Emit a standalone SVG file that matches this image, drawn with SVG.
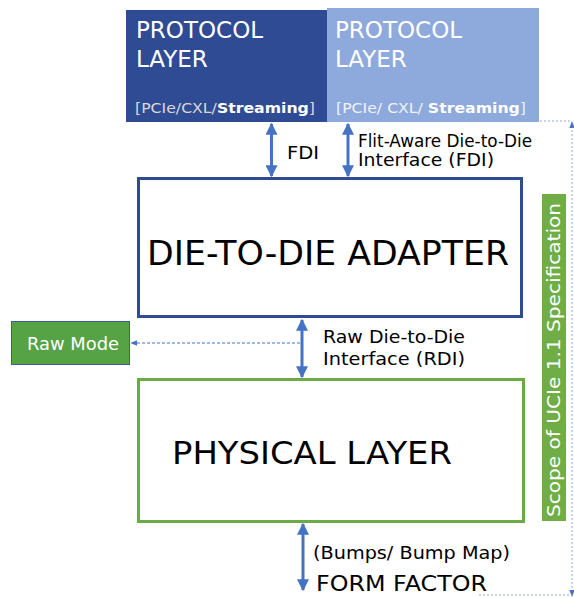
<svg xmlns="http://www.w3.org/2000/svg" width="574" height="598" viewBox="0 0 574 598">
<defs>
<marker id="ah" viewBox="0 0 10 10" refX="9" refY="5" markerWidth="4" markerHeight="4" orient="auto-start-reverse" markerUnits="strokeWidth"><path d="M0,0 L10,5 L0,10 z" fill="#4472C4"/></marker>
<marker id="ahs" viewBox="0 0 10 10" refX="9" refY="5" markerWidth="7" markerHeight="7" orient="auto-start-reverse" markerUnits="userSpaceOnUse"><path d="M0,1 L10,5 L0,9 z" fill="#4472C4"/></marker>
<style>
text{font-family:"DejaVu Sans","Liberation Sans",sans-serif;}
.w{fill:#ffffff}
.k{fill:#000000}
.sub{fill:#d9d9d9;font-size:14px}
.arr{stroke:#4472C4;stroke-width:3;fill:none;marker-start:url(#ah);marker-end:url(#ah)}
.dash{stroke:#4472C4;stroke-width:1;fill:none;stroke-dasharray:3,2}
.dot{stroke:#8EA9DB;stroke-width:1;fill:none;stroke-dasharray:2,2}
</style>
</defs>
<rect width="574" height="598" fill="#ffffff"/>
<g id="protocol1">
<rect x="126" y="10" width="202" height="112" fill="#2F4B93"/>
<text x="136" y="38" class="w" font-size="23">PROTOCOL</text>
<text x="136" y="67" class="w" font-size="23">LAYER</text>
<text x="135" y="113" class="sub" textLength="180" lengthAdjust="spacingAndGlyphs">[PCIe/CXL/<tspan font-weight="bold" fill="#ffffff">Streaming</tspan>]</text>
</g>
<g id="protocol2">
<rect x="327" y="8" width="212" height="114" fill="#8EA9DB"/>
<text x="335" y="38" class="w" font-size="23">PROTOCOL</text>
<text x="335" y="67" class="w" font-size="23">LAYER</text>
<text x="336" y="113" class="sub" style="fill:#eef2fa" textLength="190" lengthAdjust="spacingAndGlyphs">[PCIe/ CXL/ <tspan font-weight="bold" fill="#ffffff">Streaming</tspan>]</text>
</g>
<g id="adapter">
<rect x="138.5" y="178.5" width="383" height="138" fill="#ffffff" stroke="#2F4B93" stroke-width="3"/>
<text x="328" y="265" class="k" font-size="34" text-anchor="middle" textLength="362" lengthAdjust="spacingAndGlyphs">DIE-TO-DIE ADAPTER</text>
</g>
<g id="rawmode">
<rect x="11.5" y="321.5" width="118" height="43" fill="#56A345" stroke="#3B5BA5" stroke-width="1"/>
<text x="27" y="350" class="w" font-size="17" textLength="92" lengthAdjust="spacingAndGlyphs">Raw Mode</text>
</g>
<g id="physical">
<rect x="138.5" y="379.5" width="385" height="142" fill="#ffffff" stroke="#6AAB45" stroke-width="3"/>
<text x="312" y="464" class="k" font-size="32" text-anchor="middle" textLength="280" lengthAdjust="spacingAndGlyphs">PHYSICAL LAYER</text>
</g>
<g id="scope">
<rect x="542" y="194" width="24" height="327" fill="#70AD47"/>
<text transform="translate(560,360) rotate(-90)" class="w" font-size="17" text-anchor="middle" textLength="314" lengthAdjust="spacingAndGlyphs">Scope of UCIe 1.1 Specification</text>
</g>
<g id="formfactor">
<text x="316" y="591" class="k" font-size="21" textLength="171" lengthAdjust="spacingAndGlyphs">FORM FACTOR</text>
</g>
<g id="connectors">
<line x1="271.5" y1="124" x2="271.5" y2="176" class="arr"/>
<line x1="348" y1="124" x2="348" y2="176" class="arr"/>
<line x1="302" y1="320" x2="302" y2="377" class="arr"/>
<line x1="303" y1="524" x2="303" y2="590" class="arr"/>
<line x1="300" y1="343" x2="131" y2="343" class="dash" marker-end="url(#ahs)"/>
<polyline points="540,121 572,121" class="dot"/>
<line x1="572" y1="122" x2="572" y2="596" class="dot" marker-start="url(#ahs)" marker-end="url(#ahs)"/>
<line x1="479" y1="595" x2="572" y2="595" class="dot"/>
<text x="287" y="159" class="k" font-size="18" textLength="32" lengthAdjust="spacingAndGlyphs">FDI</text>
<text x="358" y="147" class="k" font-size="17" textLength="174" lengthAdjust="spacingAndGlyphs">Flit-Aware Die-to-Die</text>
<text x="358" y="166" class="k" font-size="17" textLength="136" lengthAdjust="spacingAndGlyphs">Interface (FDI)</text>
<text x="323" y="343" class="k" font-size="18" textLength="142" lengthAdjust="spacingAndGlyphs">Raw Die-to-Die</text>
<text x="323" y="365" class="k" font-size="18" textLength="142" lengthAdjust="spacingAndGlyphs">Interface (RDI)</text>
<text x="313" y="559" class="k" font-size="18" textLength="197" lengthAdjust="spacingAndGlyphs">(Bumps/ Bump Map)</text>
</g>
</svg>
